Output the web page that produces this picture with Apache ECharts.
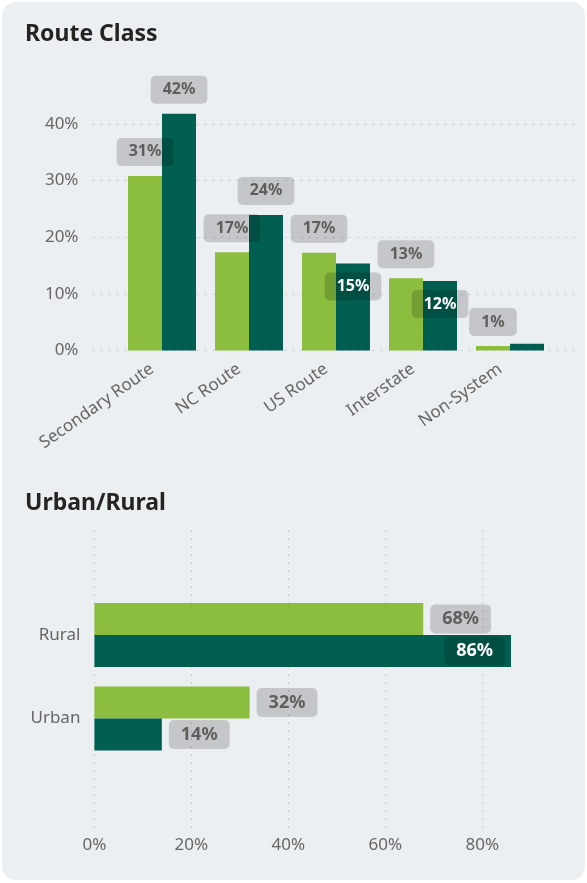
<!DOCTYPE html>
<html>
<head>
<meta charset="utf-8">
<script src="https://cdn.jsdelivr.net/npm/echarts@6/dist/echarts.min.js"></script>
<style>
  html, body { margin: 0; padding: 0; background: #fff; }
  #card {
    position: absolute; left: 2px; top: 2px; width: 583px; height: 878px;
    background: #eceff2; border-radius: 14px;
  }
  #chart { position: absolute; left: 0; top: 0; width: 587px; height: 883px; }
</style>
</head>
<body>
<div id="card"></div>
<div id="chart"></div>
<script>
// Route Class (percent)
const routeCategories = ['Secondary Route', 'NC Route', 'US Route', 'Interstate', 'Non-System']
const routeLight = [30.9, 17.4, 17.3, 12.8, 0.8]
const routeDark = [41.9, 24.0, 15.4, 12.3, 1.2]
// where the dark series puts its label (null = hidden, overlaps the light one)
const routeDarkLabelPos = ['top', 'top', 'insideTop', 'insideTop', null]

// Urban/Rural (percent)
const areaCategories = ['Rural', 'Urban']
const areaLight = [67.8, 32.0]
const areaDark = [85.9, 13.9]
const areaDarkLabelPos = ['insideRight', 'right']

const FONT = "'Segoe UI', 'Noto Sans', sans-serif"
const LIGHT = '#8bbe3f'
const DARK = '#005f50'
const AXIS_TEXT = '#666666'
const gridLine = { show: true, lineStyle: { color: '#c4c6c9', width: 1, type: [2, 6] } }

const pct = p => Math.round(p.value) + '%'

const labelBox = (fontSize, lineHeight, padding) => ({
  show: true,
  formatter: pct,
  fontFamily: FONT,
  fontSize,
  lineHeight,
  fontWeight: 'bold',
  color: '#605e5c',
  backgroundColor: 'rgba(0,0,0,0.17)',
  borderRadius: 5,
  padding
})

const topLabel = labelBox(16, 16, [6, 12])
const bottomLabel = labelBox(18, 19, [5, 12])

const withLabel = (values, positions, base, dist) => values.map((v, i) => {
  const pos = positions[i]
  if (!pos) return { value: v, label: { show: false } }
  const inside = pos.startsWith('inside')
  return {
    value: v,
    label: { ...base, position: pos, distance: inside ? (base === topLabel ? 9 : 6) : dist, color: inside ? '#ffffff' : '#605e5c' }
  }
})

const chart = echarts.init(document.getElementById('chart'), null, { renderer: 'canvas' })

const titleStyle = { fontFamily: FONT, fontSize: 23, fontWeight: 'bold', color: '#252423' }

const option = {
  backgroundColor: 'transparent',
  animation: false,
  title: [
    { text: 'Route Class', left: 25, top: 23, padding: 0, textStyle: titleStyle },
    { text: 'Urban/Rural', left: 25, top: 492, padding: 0, textStyle: titleStyle }
  ],
  grid: [
    // top: split lines + y labels
    { left: 92.5, right: 10, top: 124, height: 226.5 },
    // top: bars
    { left: 118.5, width: 435, top: 96.25, height: 254.25 },
    // bottom: split lines + x labels
    { left: 94.4, width: 485, top: 530, height: 300 },
    // bottom: bars
    { left: 94.4, width: 485, top: 593.25, height: 167 }
  ],
  xAxis: [
    { gridIndex: 0, type: 'value', show: false },
    {
      gridIndex: 1, type: 'category', data: routeCategories,
      axisLine: { show: false }, axisTick: { show: false },
      axisLabel: { rotate: 35, margin: 10, padding: [0, 12, 0, 0], fontFamily: FONT, fontSize: 17, color: AXIS_TEXT }
    },
    {
      gridIndex: 2, type: 'value', min: 0, max: 100, interval: 20,
      axisLine: { show: false }, axisTick: { show: false },
      splitLine: { ...gridLine, showMaxLine: false },
      axisLabel: { formatter: '{value}%', showMaxLabel: false, margin: 7, fontFamily: FONT, fontSize: 17, color: AXIS_TEXT }
    },
    { gridIndex: 3, type: 'value', min: 0, max: 100, show: false }
  ],
  yAxis: [
    {
      gridIndex: 0, type: 'value', min: 0, max: 40, interval: 10,
      axisLine: { show: false }, axisTick: { show: false },
      splitLine: gridLine,
      axisLabel: { formatter: '{value}%', margin: 14, fontFamily: FONT, fontSize: 17, color: AXIS_TEXT }
    },
    { gridIndex: 1, type: 'value', min: 0, max: 45, show: false },
    { gridIndex: 2, type: 'category', data: areaCategories, show: false },
    {
      gridIndex: 3, type: 'category', data: areaCategories, inverse: true,
      axisLine: { show: false }, axisTick: { show: false },
      axisLabel: { margin: 14, fontFamily: FONT, fontSize: 17, color: AXIS_TEXT }
    }
  ],
  series: [
    {
      type: 'bar', xAxisIndex: 1, yAxisIndex: 1, barWidth: 34, barGap: '0%',
      itemStyle: { color: LIGHT },
      label: { ...topLabel, position: 'top', distance: 10 },
      data: routeLight
    },
    {
      type: 'bar', xAxisIndex: 1, yAxisIndex: 1, barWidth: 34, barGap: '0%',
      itemStyle: { color: DARK },
      data: withLabel(routeDark, routeDarkLabelPos, topLabel, 10)
    },
    {
      type: 'bar', xAxisIndex: 3, yAxisIndex: 3, barWidth: 32, barGap: '0%',
      itemStyle: { color: LIGHT },
      label: { ...bottomLabel, position: 'right', distance: 7 },
      data: areaLight
    },
    {
      type: 'bar', xAxisIndex: 3, yAxisIndex: 3, barWidth: 32, barGap: '0%',
      itemStyle: { color: DARK },
      data: withLabel(areaDark, areaDarkLabelPos, bottomLabel, 7)
    }
  ]
}

chart.setOption(option)
window.addEventListener('resize', () => chart.resize())
</script>
</body>
</html>
